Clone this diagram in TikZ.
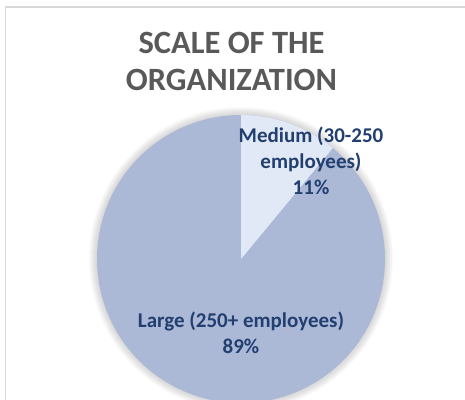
\documentclass[tikz,border=0pt]{standalone}
\usepackage{fontspec}
\setmainfont{Carlito}
\usetikzlibrary{calc}
\definecolor{framegray}{HTML}{D9D9D9}
\definecolor{titlegray}{HTML}{595959}
\definecolor{largeblue}{HTML}{ABB9D7}
\definecolor{mediumblue}{HTML}{E2E9F6}
\definecolor{labelblue}{HTML}{223F70}
\tikzset{
  charttitle/.style={font=\bfseries\fontsize{32.5}{37}\selectfont, text=titlegray, align=center, inner sep=0pt},
  slicelabel/.style={font=\bfseries\fontsize{21}{26}\selectfont, text=labelblue, align=center, inner sep=0pt}
}

\begin{document}
\begin{tikzpicture}[x=1pt, y=1pt]
		%%%%% START %%%%%
		
		\useasboundingbox (0, 0) rectangle (465, 399);
		\clip (0, 0) rectangle (465, 399);
		
		% chart frame
		\draw[line width=1.5pt, color=framegray] (5.5, -10) rectangle (475, 392);
		
		% soft shadow round the pie
		\coordinate (c) at (241, 140);
		\foreach \k in {1,...,8} {
			\fill[black, opacity=0.018] (c) circle ({144 + \k});
		}
		
		% slices
		\fill[largeblue] (c) circle (144);
		\fill[mediumblue] (c) -- ++(90:144) arc[start angle=90, end angle=50.4, radius=144] -- cycle;
		
		% texts
		\node[charttitle] (title) at (231.5, 338) {SCALE OF THE\\ORGANIZATION};
		\node[slicelabel] (medium) at (311, 238) {Medium (30-250\\employees)\\11\%};
		\node[slicelabel] (large) at (241, 66) {Large (250+ employees)\\89\%};
		
		%%%%% END %%%%%
\end{tikzpicture}
\end{document}
